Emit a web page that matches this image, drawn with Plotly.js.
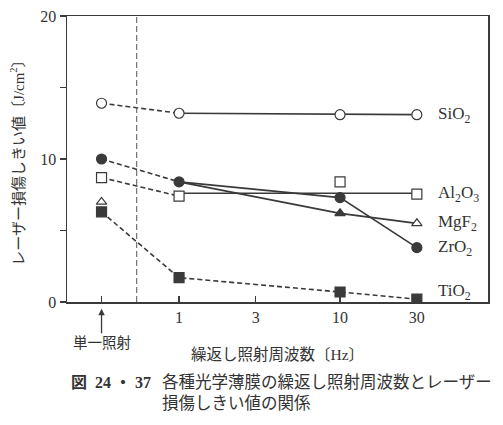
<!DOCTYPE html>
<html>
<head>
<meta charset="utf-8">
<script src="https://cdn.plot.ly/plotly-3.0.1.min.js"></script>
<style>html,body{margin:0;padding:0;background:#fff;}#chart{width:503px;height:425px;}</style>
</head>
<body>
<div id="chart"></div>
<script>
// ---- data ----
const freqPos = [0.33, 1, 3, 10, 30];          // single shot drawn left of 1 Hz
const tickText = ["", "1", "3", "10", "30"];
const dataX = [0.33, 1, 10, 30];              // single, 1 Hz, 10 Hz, 30 Hz
const sio2 = [13.9, 13.2, 13.1, 13.1];
const zro2 = [10.0, 8.4, 7.3, 3.8];
const al2o3 = [8.7, 7.4, 8.4, 7.55];
const al2o3Trend = [7.6, 7.6];                // solid line 1 Hz -> 30 Hz
const al2o3TrendX = [1, 30];
const mgf2 = [7.0, 8.4, 6.2, 5.5];
const tio2 = [6.3, 1.7, 0.7, 0.2];
const yTickVals = [0, 5, 10, 15, 20];
const yTickText = ["0", "", "10", "", "20"];

const C = "#3a3a3a";
const FONT = "Liberation Serif, 'DejaVu Serif', 'Noto Sans CJK JP', serif";
const JFONT = "'Liberation Serif', 'Noto Sans CJK JP', serif";
const DASH = "5px,3px";

const traces = [];
function seg(x, y, dash) {
  traces.push({x: x, y: y, mode: "lines", type: "scatter", hoverinfo: "skip",
    line: {color: C, width: 1.6, dash: dash}, showlegend: false});
}
function marks(x, y, symbol, fill, size) {
  traces.push({x: x, y: y, mode: "markers", type: "scatter", showlegend: false,
    marker: {symbol: symbol, size: size || 10, color: fill, line: {color: C, width: 1.2}}});
}
// SiO2
seg(dataX.slice(0, 2), sio2.slice(0, 2), DASH);
seg(dataX.slice(1), sio2.slice(1), "solid");
marks(dataX, sio2, "circle", "#fff");
// Al2O3
seg(dataX.slice(0, 2), al2o3.slice(0, 2), DASH);
seg(al2o3TrendX, al2o3Trend, "solid");
marks(dataX, al2o3, "square", "#fff");
// MgF2 (single point unconnected; 1 Hz point hidden under ZrO2)
seg(dataX.slice(1), mgf2.slice(1), "solid");
marks([dataX[0], dataX[2], dataX[3]], [mgf2[0], mgf2[2], mgf2[3]], "triangle-up",
  ["#fff", C, "#fff"], 9);
// ZrO2
seg(dataX.slice(0, 2), zro2.slice(0, 2), DASH);
seg(dataX.slice(1), zro2.slice(1), "solid");
marks(dataX, zro2, "circle", C);
// TiO2
seg(dataX, tio2, DASH);
marks(dataX, tio2, "square", C);

// dashed separator between single shot and repetition
const sepX = Math.sqrt(freqPos[0] * freqPos[1]) * 0.95;

const labels = [
  {t: "SiO<sub>2</sub>", y: sio2[3], dy: 0},
  {t: "Al<sub>2</sub>O<sub>3</sub>", y: al2o3[3], dy: 0},
  {t: "MgF<sub>2</sub>", y: mgf2[3], dy: 0},
  {t: "ZrO<sub>2</sub>", y: zro2[3], dy: 0},
  {t: "TiO<sub>2</sub>", y: tio2[3], dy: 7}
];
const annotations = labels.map(l => ({
  x: Math.log10(30), y: l.y, xref: "x", yref: "y", text: l.t, showarrow: false,
  xanchor: "left", yanchor: "middle", xshift: 19, yshift: l.dy,
  font: {family: FONT, size: 17, color: "#333"}
}));
annotations.push({
  x: Math.log10(freqPos[0]), y: -0.024, xref: "x", yref: "paper", text: "単一照射",
  showarrow: true, ax: 0, ay: 34, arrowhead: 2, arrowsize: 1, arrowwidth: 1.3, arrowcolor: C,
  font: {family: JFONT, size: 14.5, color: "#333"}
});
annotations.push({
  x: 0.5, y: -0.185, xref: "paper", yref: "paper", text: "繰返し照射周波数〔Hz〕",
  showarrow: false, xanchor: "center", yanchor: "middle",
  font: {family: JFONT, size: 15.5, color: "#333"}
});
annotations.push({
  x: 0.005, y: -0.28, xref: "paper", yref: "paper", text: "<b>図&nbsp;&nbsp;24&nbsp;・&nbsp;37</b>",
  showarrow: false, xanchor: "left", yanchor: "middle",
  font: {family: JFONT, size: 16, color: "#333"}
});
annotations.push({
  x: 0.222, y: -0.28, xref: "paper", yref: "paper",
  text: "各種光学薄膜の繰返し照射周波数とレーザー<br>損傷しきい値の関係",
  showarrow: false, xanchor: "left", yanchor: "top", align: "left", yshift: 11,
  font: {family: JFONT, size: 16.5, color: "#333"}
});

const layout = {
  width: 503, height: 425,
  margin: {l: 67, r: 15, t: 16, b: 123},
  paper_bgcolor: "#fff", plot_bgcolor: "#fff",
  showlegend: false,
  xaxis: {
    type: "log", range: [-0.696, 1.919], tickvals: freqPos, ticktext: tickText,
    ticks: "inside", ticklen: 6, tickcolor: C, tickwidth: 1.2,
    showline: true, linecolor: C, linewidth: 1.5, mirror: true,
    showgrid: false, zeroline: false,
    tickfont: {family: FONT, size: 16, color: "#333"}
  },
  yaxis: {
    range: [0, 20], tickvals: yTickVals, ticktext: yTickText,
    ticks: "outside", ticklen: 6, tickcolor: C, tickwidth: 1.2,
    showline: true, linecolor: C, linewidth: 1.5, mirror: true,
    showgrid: false, zeroline: false,
    tickfont: {family: FONT, size: 16, color: "#333"},
    title: {text: "レーザー損傷しきい値〔J/cm<sup>2</sup>〕", standoff: 12,
      font: {family: JFONT, size: 15, color: "#333"}}
  },
  shapes: [{
    type: "line", xref: "x", yref: "paper", x0: sepX, x1: sepX, y0: 0, y1: 1,
    line: {color: "#555", width: 1, dash: "6px,3px"}
  }],
  annotations: annotations
};

Plotly.newPlot("chart", traces, layout, {staticPlot: true, displayModeBar: false});
</script>
</body>
</html>
